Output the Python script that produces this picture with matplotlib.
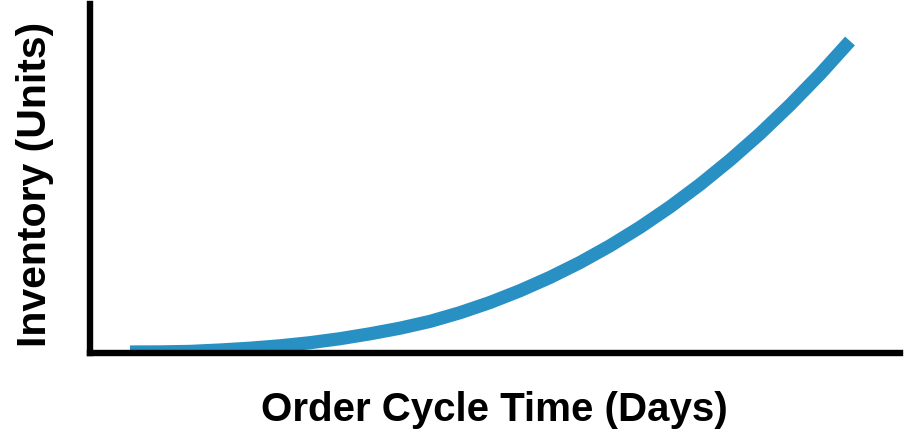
import matplotlib.pyplot as plt

# curve (x = days, y = units, arbitrary scale)
days = [40, 70, 100, 130, 160, 190, 220, 250, 280, 310, 340, 370, 400,
        430, 460, 490, 520, 550, 580, 610, 640, 670, 700, 730, 760]
units = [0, 0.1, 0.6, 2.0, 3.8, 6.2, 9.3, 13.3, 18.2, 23.8, 30.6, 39.3, 49.5,
         61.3, 74.6, 89.5, 106.2, 124.7, 145.1, 167.5, 191.9, 218.3, 247.0, 277.8, 311]

x_label = 'Order Cycle Time (Days)'
y_label = 'Inventory (Units)'

plt.rcParams['font.family'] = ['Liberation Sans', 'DejaVu Sans']

fig = plt.figure(figsize=(9.09, 4.33), dpi=100)
W, H = 909, 433
ax = fig.add_axes([90 / W, (H - 353) / H, (900 - 90) / W, (353 - 4) / H])

ax.plot(days, units, color='#2990C4', lw=9.5, solid_capstyle='butt', zorder=1)

ax.set_xlim(0, 810)
ax.set_ylim(-1, 348)
ax.set_xticks([])
ax.set_yticks([])
for s in ['top', 'right']:
    ax.spines[s].set_visible(False)
for s in ['left', 'bottom']:
    ax.spines[s].set_linewidth(4.6)
    ax.spines[s].set_color('black')
    ax.spines[s].set_zorder(3)

fig.text(494 / W, 1 - 410 / H, x_label, fontsize=29, fontweight='bold',
         ha='center', va='center')
fig.text(35 / W, 1 - 184 / H, y_label, fontsize=29.5, fontweight='bold',
         ha='center', va='center', rotation=90)

fig.savefig('out.png', dpi=100)
